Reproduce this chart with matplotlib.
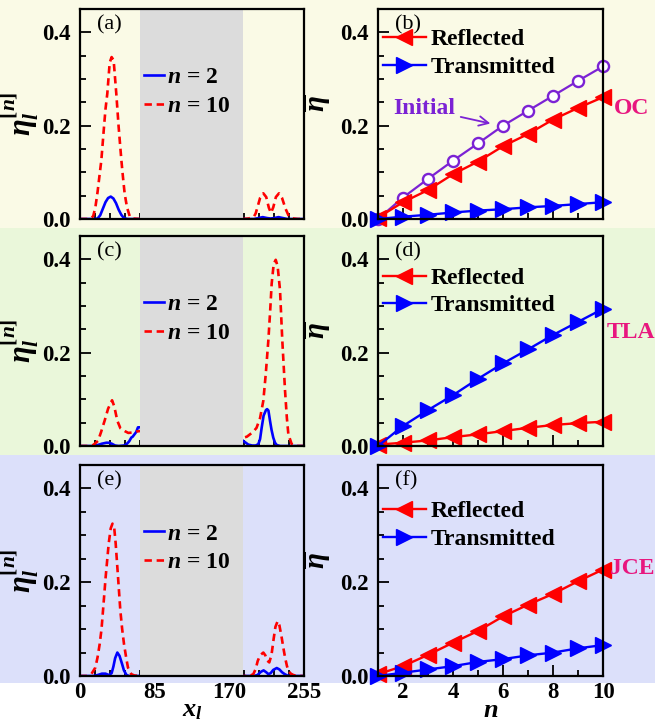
import matplotlib
matplotlib.use('Agg')
import matplotlib.pyplot as plt
from matplotlib.patches import Rectangle
from matplotlib.ticker import MultipleLocator, FormatStrFormatter

plt.rcParams.update({
    'font.family': ['Liberation Serif', 'DejaVu Serif'],
    'font.weight': 'bold',
    'mathtext.fontset': 'custom',
    'mathtext.it': 'Liberation Serif:italic:bold',
    'mathtext.rm': 'Liberation Serif:bold',
    'mathtext.bf': 'Liberation Serif:bold',
})

# ---------------- data: left panels (eta_l^[n] vs x_l) ----------------
# panel (a) OC
a_red_x = [0, 8, 12, 15, 17.5, 20, 22, 24.3, 27.3, 29, 31.1, 33.8, 36, 38.3, 41.3, 44, 47.1, 49, 50.8, 53.5, 56.6, 60, 68,
           185, 192, 198, 200, 202, 205, 208.7, 212, 215, 217.4, 220, 223, 226.5, 230, 234, 238, 243, 248, 255]
a_red_y = [0, 0, 0.001, 0.006, 0.025, 0.058, 0.09, 0.126, 0.197, 0.235, 0.269, 0.335, 0.347, 0.34, 0.269, 0.197, 0.126, 0.088, 0.055, 0.025, 0.006, 0.001, 0,
           0, 0.001, 0.005, 0.012, 0.025, 0.045, 0.055, 0.047, 0.024, 0.013, 0.025, 0.047, 0.055, 0.045, 0.022, 0.005, 0.001, 0, 0]
a_blue_x = [0, 15, 20, 23, 26, 29, 32, 35, 38, 41, 44, 47, 50, 54, 68,
            185, 198, 203, 208, 213, 217, 221, 226, 231, 236, 255]
a_blue_y = [0, 0, 0.001, 0.008, 0.022, 0.036, 0.045, 0.048, 0.044, 0.034, 0.02, 0.009, 0.002, 0, 0,
            0, 0, 0.002, 0.004, 0.002, 0.001, 0.002, 0.004, 0.002, 0, 0]
# panel (c) TLA
c_red_x = [0, 10, 15, 20.5, 24, 28, 32, 36.5, 39, 42.5, 46, 50.9, 55, 60, 64, 68,
           185, 190, 193.5, 197, 201, 205, 208.7, 211.5, 214.4, 216.5, 218.2, 220.5, 222.8, 225, 227.7, 230.3, 233.4, 235.5, 237.2, 241, 245, 255]
c_red_y = [0, 0, 0.002, 0.011, 0.03, 0.054, 0.08, 0.098, 0.085, 0.054, 0.038, 0.032, 0.028, 0.029, 0.031, 0.032,
           0.017, 0.02, 0.025, 0.03, 0.039, 0.06, 0.097, 0.155, 0.226, 0.29, 0.348, 0.39, 0.399, 0.385, 0.334, 0.226, 0.119, 0.06, 0.025, 0.004, 0, 0]
c_blue_x = [0, 15, 20, 25, 30, 33, 36, 40, 44, 50, 53, 56, 58.4, 60, 62, 64, 66, 68,
            185, 188, 191.6, 196, 200, 203, 205, 206.8, 209, 211.7, 213, 214.5, 216.3, 218, 220, 222, 224, 228, 255]
c_blue_y = [0, 0, 0.002, 0.005, 0.007, 0.007, 0.005, 0.001, 0, 0.001, 0.004, 0.01, 0.018, 0.02, 0.025, 0.03, 0.04, 0.04,
            0.012, 0.008, 0.003, 0.001, 0.001, 0.004, 0.015, 0.039, 0.065, 0.077, 0.079, 0.076, 0.054, 0.035, 0.018, 0.007, 0.002, 0, 0]
# panel (e) JCE
e_red_x = [0, 8, 12.9, 17.5, 20, 22.4, 24.5, 26.2, 29.2, 32.7, 35, 37, 39, 40.6, 43.3, 45.9, 48, 50.1, 52.5, 54.6, 58.4, 62, 68,
           185, 193, 197.3, 200, 202.3, 205, 208.7, 211, 213, 215.5, 218, 220.5, 222.5, 225, 227, 229.6, 231.5, 233.4, 235.5, 237.2, 240, 243, 248, 255]
e_red_y = [0, 0, 0.004, 0.018, 0.04, 0.068, 0.1, 0.14, 0.211, 0.283, 0.315, 0.325, 0.315, 0.283, 0.211, 0.14, 0.1, 0.068, 0.04, 0.018, 0.004, 0.001, 0,
           0, 0, 0.004, 0.015, 0.032, 0.044, 0.05, 0.044, 0.033, 0.029, 0.045, 0.08, 0.105, 0.117, 0.108, 0.082, 0.06, 0.04, 0.022, 0.011, 0.005, 0.002, 0, 0]
e_blue_x = [0, 15, 20, 25, 29, 33, 36, 38, 40, 42.5, 45, 48, 50, 53, 56, 68,
            185, 198, 202, 206, 209, 212, 214.4, 217, 220, 224, 227, 230, 233, 236, 240, 255]
e_blue_y = [0, 0, 0.002, 0.005, 0.005, 0.002, 0.006, 0.02, 0.038, 0.05, 0.043, 0.025, 0.012, 0.002, 0, 0,
            0, 0, 0.002, 0.009, 0.012, 0.008, 0.004, 0.006, 0.013, 0.017, 0.014, 0.008, 0.004, 0.001, 0, 0]

# ---------------- data: right panels (eta-bar vs n) ----------------
n_vals = [1, 2, 3, 4, 5, 6, 7, 8, 9, 10]
oc_initial = [0.0, 0.046, 0.086, 0.125, 0.162, 0.2, 0.232, 0.264, 0.296, 0.327]
oc_refl = [0.003, 0.036, 0.062, 0.096, 0.123, 0.156, 0.182, 0.213, 0.238, 0.261]
oc_trans = [0.0, 0.005, 0.009, 0.014, 0.018, 0.021, 0.025, 0.028, 0.032, 0.036]
tla_refl = [0.003, 0.007, 0.012, 0.019, 0.025, 0.032, 0.039, 0.045, 0.049, 0.052]
tla_trans = [0.0, 0.043, 0.077, 0.109, 0.144, 0.177, 0.207, 0.238, 0.266, 0.294]
jce_refl = [0.004, 0.021, 0.045, 0.071, 0.096, 0.127, 0.152, 0.175, 0.202, 0.227]
jce_trans = [0.0, 0.007, 0.014, 0.021, 0.03, 0.036, 0.044, 0.05, 0.059, 0.066]

left_ticks = [0, 85, 170, 255]
right_ticks = [2, 4, 6, 8, 10]
panel_letters = ['(a)', '(b)', '(c)', '(d)', '(e)', '(f)']
scheme_names = ['OC', 'TLA', 'JCE']

RED = '#ff0000'
BLUE = '#0000ff'
PURPLE = '#7b22d4'
PINK = '#e8177f'
GREY = '#dcdcdc'
band_colors = ['#fafae6', '#eaf7da', '#dce0fa']

W, H = 655, 728
fig = plt.figure(figsize=(W / 100, H / 100), dpi=100)


def fpos(l, t, w, h):
    return [l / W, 1 - (t + h) / H, w / W, h / H]


# background bands
bands = [(0, 228), (228, 455), (455, 683)]
for (t0, t1), col in zip(bands, band_colors):
    fig.patches.append(Rectangle((0, 1 - t1 / H), 1, (t1 - t0) / H, transform=fig.transFigure,
                                 facecolor=col, edgecolor='none', zorder=-10))

rows_t = [(9, 210), (236, 210), (465, 211)]
TICKFS = 16.5


def style(ax, right, bottom_labels):
    ax.set_facecolor('none')
    ax.set_ylim(0, 0.45)
    ax.yaxis.set_major_locator(MultipleLocator(0.2))
    ax.yaxis.set_minor_locator(MultipleLocator(0.05))
    ax.yaxis.set_major_formatter(FormatStrFormatter('%.1f'))
    if right:
        ax.set_xlim(1, 10)
        ax.set_xticks(right_ticks)
        ax.xaxis.set_minor_locator(MultipleLocator(1))
    else:
        ax.set_xlim(0, 255)
        ax.set_xticks(left_ticks)
        ax.xaxis.set_minor_locator(MultipleLocator(17))
    ax.tick_params(which='both', direction='in', top=False, right=False, width=1.3)
    ax.tick_params(which='major', length=8, labelsize=TICKFS)
    ax.tick_params(which='minor', length=4.5)
    ax.tick_params(axis='y', pad=7)
    ax.tick_params(axis='x', pad=4)
    if not bottom_labels:
        ax.tick_params(axis='x', labelbottom=False)
    for s in ax.spines.values():
        s.set_linewidth(1.6)
        s.set_zorder(5)


left_data = [(a_blue_x, a_blue_y, a_red_x, a_red_y),
             (c_blue_x, c_blue_y, c_red_x, c_red_y),
             (e_blue_x, e_blue_y, e_red_x, e_red_y)]
right_data = [(oc_refl, oc_trans), (tla_refl, tla_trans), (jce_refl, jce_trans)]
right_leg_top = [0.905, 0.85, 0.83]

for i in range(3):
    t, h = rows_t[i]
    axl = fig.add_axes(fpos(80, t, 224, h))
    axr = fig.add_axes(fpos(378, t, 225, h))
    style(axl, False, i == 2)
    style(axr, True, i == 2)

    bx, by, rx, ry = left_data[i]
    axl.plot(bx, by, color=BLUE, lw=1.9, zorder=2, label=r'$n$ = 2')
    axl.plot(rx, ry, color=RED, lw=1.9, ls=(0, (2.8, 1.8)), zorder=2, label=r'$n$ = 10')
    axl.axvspan(68, 185, color=GREY, lw=0, zorder=2.6)
    leg = axl.legend(loc='upper left', bbox_to_anchor=(0.285, 0.725), frameon=False,
                     fontsize=17, handlelength=0.85, handletextpad=0.15, labelspacing=0.3,
                     borderpad=0, borderaxespad=0)
    leg.set_zorder(6)
    axl.text(0.075, 0.925, panel_letters[2 * i], transform=axl.transAxes, fontsize=16,
             fontweight='normal', ha='left', va='center', zorder=6)
    axl.set_ylabel(r'$\eta_l^{[n]}$', fontsize=22)
    axl.yaxis.set_label_coords(-0.175, 0.5)

    refl, trans = right_data[i]
    if i == 0:
        axr.plot(n_vals, oc_initial, color=PURPLE, lw=1.6, marker='o', ms=8, mfc='white',
                 mec=PURPLE, mew=1.7, zorder=3, clip_on=False)
        axr.annotate('Initial', xy=(5.55, 0.204), xytext=(2.85, 0.236), color=PURPLE,
                     fontsize=17, ha='center', va='center',
                     arrowprops=dict(arrowstyle='->', color=PURPLE, lw=1.3, shrinkA=2, shrinkB=1))
    axr.plot(n_vals, refl, color=RED, lw=1.7, marker='<', ms=11, zorder=4, label='Reflected', clip_on=False)
    axr.plot(n_vals, trans, color=BLUE, lw=1.7, marker='>', ms=11, zorder=4, label='Transmitted', clip_on=False)
    axr.legend(loc='upper left', bbox_to_anchor=(0.02, right_leg_top[i]), frameon=False,
               fontsize=17, handlelength=1.85, handletextpad=0.2, labelspacing=0.25,
               borderpad=0, borderaxespad=0, numpoints=1)
    axr.text(0.075, 0.925, panel_letters[2 * i + 1], transform=axr.transAxes, fontsize=16,
             fontweight='normal', ha='left', va='center', zorder=6)
    axr.set_ylabel(r'$\overline{\eta}$', fontsize=21)
    axr.yaxis.set_label_coords(-0.2, 0.55)

    if i == 2:
        axl.set_xlabel(r'$x_l$', fontsize=19)
        axl.xaxis.set_label_coords(0.5, -0.115)
        axr.set_xlabel(r'$n$', fontsize=19)
        axr.xaxis.set_label_coords(0.5, -0.115)

# scheme labels
label_pos = [(614, 108), (607, 333), (610, 568)]
for name, (px, py) in zip(scheme_names, label_pos):
    fig.text(px / W, 1 - py / H, name, color=PINK, fontsize=17, ha='left', va='center', zorder=10)

fig.savefig('out.png', dpi=100)
